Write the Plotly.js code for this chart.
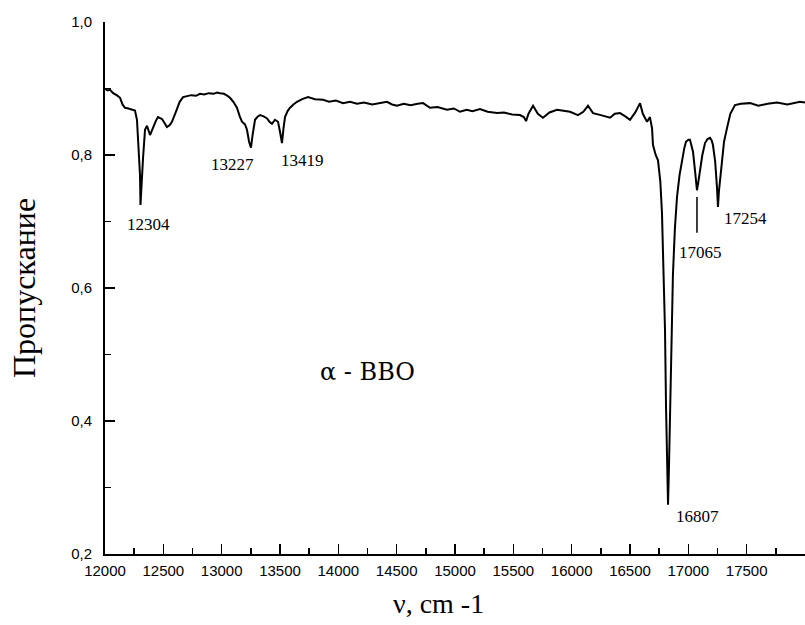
<!DOCTYPE html>
<html>
<head>
<meta charset="utf-8">
<script src="https://cdn.plot.ly/plotly-3.0.1.min.js"></script>
<style>html,body{margin:0;padding:0;background:#fff;}#chart{width:805px;height:625px;}</style>
</head>
<body>
<div id="chart"></div>
<script>
const wavenumber = [
12000,12020,12043,12070,12100,12129,12150,12171,12200,12230,12257,12274,12290,12300,12304,12312,12326,12343,12360,12386,
12411,12435,12454,12489,12510,12531,12555,12574,12610,12640,12669,12700,12740,12780,12814,12850,12890,12930,12960,12986,
13020,13050,13071,13100,13131,13155,13174,13200,13217,13235,13251,13265,13286,13310,13329,13360,13389,13410,13431,13457,
13483,13500,13517,13530,13543,13565,13586,13615,13646,13690,13740,13800,13869,13920,13980,14040,14100,14160,14220,14290,
14357,14417,14460,14503,14560,14620,14680,14726,14786,14850,14931,14990,15043,15100,15150,15214,15280,15360,15420,15490,
15557,15590,15609,15630,15669,15710,15754,15810,15874,15930,15986,16054,16100,16140,16183,16250,16329,16370,16414,16460,
16500,16545,16586,16610,16646,16671,16689,16697,16720,16740,16760,16774,16783,16792,16800,16809,16818,16826,16834,16843,
16852,16860,16868,16885,16903,16925,16946,16965,16980,17000,17014,17028,17040,17058,17074,17088,17100,17120,17143,17165,
17186,17200,17211,17230,17246,17254,17262,17280,17295,17306,17331,17360,17400,17450,17529,17600,17680,17760,17850,17957,18000];
const transmission = [
0.900,0.897,0.898,0.893,0.890,0.886,0.876,0.871,0.870,0.869,0.867,0.853,0.810,0.770,0.725,0.760,0.795,0.838,0.844,0.830,
0.842,0.851,0.857,0.854,0.848,0.842,0.845,0.850,0.866,0.880,0.887,0.888,0.890,0.889,0.892,0.891,0.893,0.892,0.894,0.893,
0.892,0.889,0.886,0.880,0.871,0.858,0.850,0.846,0.838,0.820,0.811,0.830,0.853,0.858,0.860,0.858,0.855,0.850,0.847,0.853,
0.850,0.835,0.818,0.840,0.857,0.866,0.871,0.876,0.880,0.884,0.887,0.884,0.883,0.880,0.882,0.878,0.880,0.877,0.879,0.876,
0.878,0.880,0.876,0.874,0.877,0.875,0.877,0.878,0.871,0.872,0.868,0.870,0.865,0.868,0.866,0.869,0.865,0.863,0.864,0.861,
0.860,0.857,0.851,0.862,0.874,0.862,0.856,0.864,0.868,0.866,0.865,0.860,0.865,0.874,0.863,0.860,0.856,0.862,0.863,0.858,
0.853,0.864,0.878,0.862,0.850,0.857,0.840,0.815,0.800,0.792,0.760,0.713,0.660,0.600,0.537,0.420,0.330,0.274,0.330,0.420,
0.490,0.541,0.620,0.690,0.737,0.770,0.792,0.810,0.820,0.823,0.823,0.815,0.805,0.775,0.747,0.762,0.777,0.800,0.818,0.824,
0.826,0.822,0.815,0.790,0.750,0.722,0.745,0.775,0.805,0.820,0.840,0.862,0.875,0.877,0.878,0.874,0.877,0.879,0.876,0.880,0.879];

const xTickVals = [12000,12500,13000,13500,14000,14500,15000,15500,16000,16500,17000,17500];
const yTickVals = [0.2,0.4,0.6,0.8,1.0];

const peakLabels = ["12304","13227","13419","17065","17254","16807"];
const peakLabelX = [12370,13097,13695,17100,17490,17080];
const peakLabelY = [0.695,0.785,0.792,0.653,0.705,0.256];

const sampleName = "α - BBO";
const xTitle = "ν, cm -1";
const yTitle = "Пропускание";

const serif = "'Liberation Serif', 'Times New Roman', serif";
const wideSerif = "'DejaVu Serif', 'Liberation Serif', serif";
const sans = "'Liberation Sans', Arial, sans-serif";

const annotations = peakLabels.map((t, i) => ({
  text: t, x: peakLabelX[i], y: peakLabelY[i], xref: "x", yref: "y",
  showarrow: false, font: {family: serif, size: 17, color: "#000"}
}));
annotations.push({text: sampleName, x: 14254, y: 0.474, xref: "x", yref: "y",
  showarrow: false, font: {family: wideSerif, size: 24, color: "#000"}});
annotations.push({text: xTitle, x: 0.476, y: 0, xref: "paper", yref: "paper",
  yanchor: "middle", yshift: -49, showarrow: false, font: {family: serif, size: 28, color: "#000"}});

const trace = {
  x: wavenumber, y: transmission, type: "scatter", mode: "lines",
  line: {color: "#000", width: 2}, hoverinfo: "skip"
};

const layout = {
  width: 805, height: 625,
  margin: {l: 105, r: 0, t: 22, b: 71},
  paper_bgcolor: "#fff", plot_bgcolor: "#fff",
  separators: ",.",
  showlegend: false,
  xaxis: {
    range: [12000, 18000], tickmode: "array", tickvals: xTickVals, tickformat: "d",
    ticks: "inside", ticklen: 10, tickwidth: 1.5, tickcolor: "#000",
    minor: {dtick: 250, tick0: 12000, ticks: "inside", ticklen: 6, tickwidth: 1.5, tickcolor: "#000"},
    showline: true, linecolor: "#000", linewidth: 2, showgrid: false, zeroline: false,
    ticklabelstandoff: 2,
    tickfont: {family: sans, size: 15, color: "#000"}
  },
  yaxis: {
    range: [0.2, 1.0], tickmode: "array", tickvals: yTickVals, tickformat: ".1f",
    ticks: "inside", ticklen: 10, tickwidth: 1.5, tickcolor: "#000",
    minor: {dtick: 0.1, tick0: 0.2, ticks: "inside", ticklen: 6, tickwidth: 1.5, tickcolor: "#000"},
    showline: true, linecolor: "#000", linewidth: 2, showgrid: false, zeroline: false,
    ticklabelstandoff: 8,
    tickfont: {family: sans, size: 15, color: "#000"},
    title: {text: yTitle, font: {family: serif, size: 32, color: "#000"}, standoff: 26}
  },
  shapes: [{type: "line", xref: "x", yref: "y", x0: 17074, x1: 17074, y0: 0.737, y1: 0.683,
    line: {color: "#000", width: 1.5}}],
  annotations: annotations
};

Plotly.newPlot("chart", [trace], layout, {staticPlot: true, displayModeBar: false});
</script>
</body>
</html>
